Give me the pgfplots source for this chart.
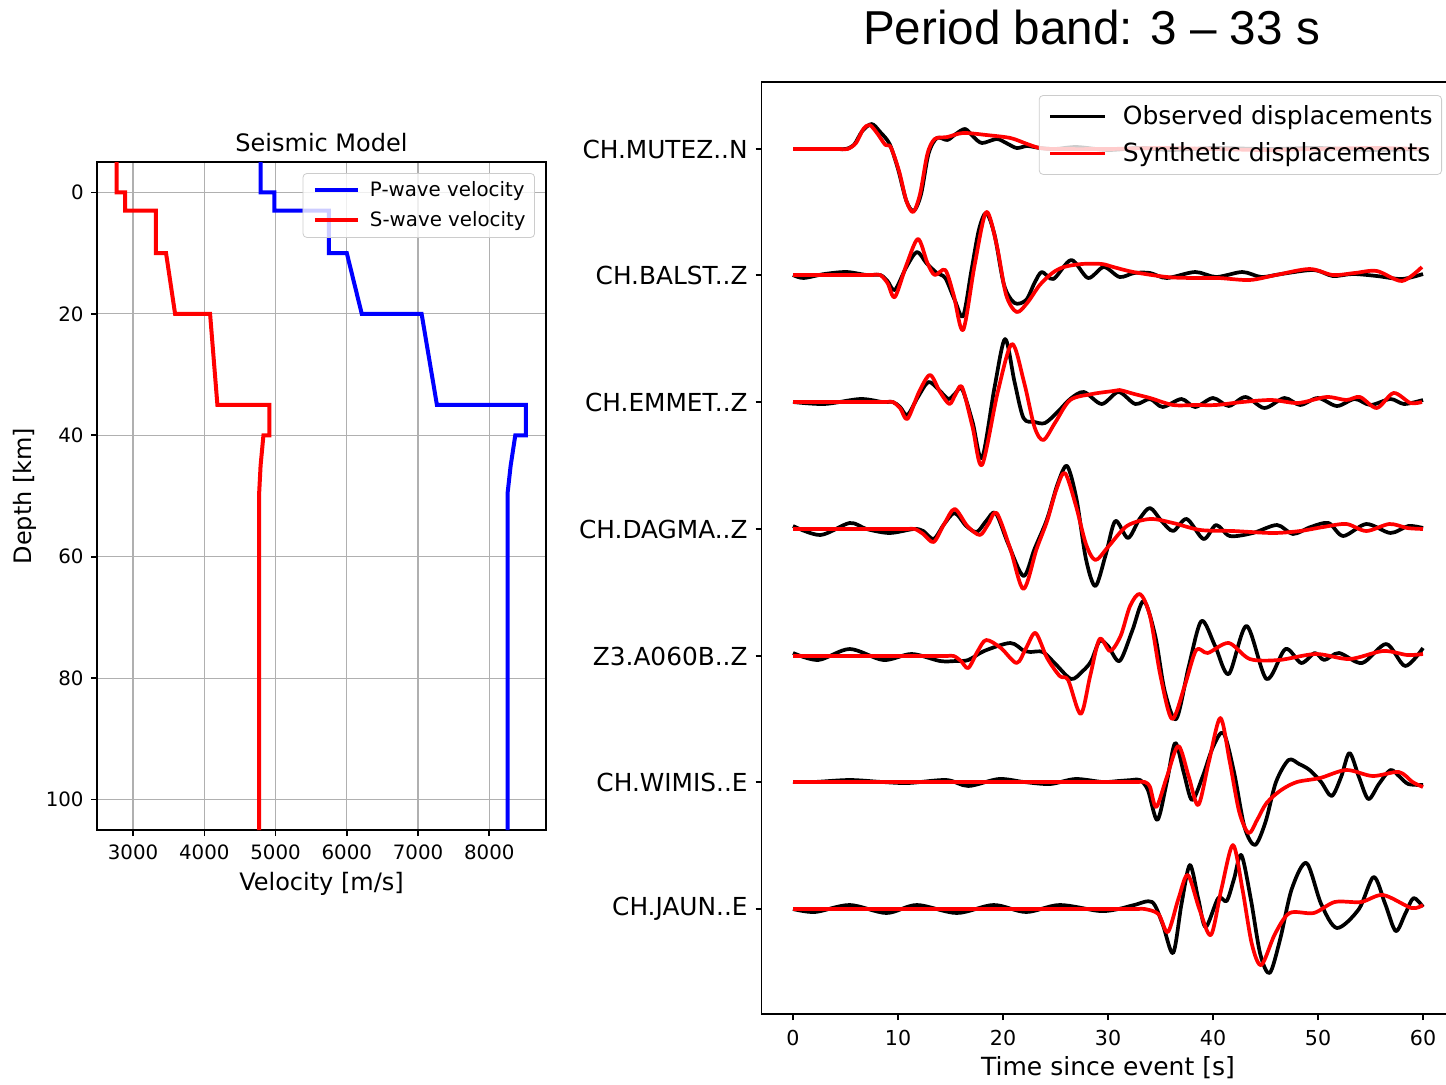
\documentclass[border=0pt]{standalone}
\usepackage{pgfplots}
\pgfplotsset{compat=1.18}
\usepackage{fontspec}
\setmainfont{DejaVu Sans}
\newfontfamily\arialfont{Liberation Sans}

\definecolor{gridgray}{RGB}{176,176,176}
\definecolor{legframe}{RGB}{204,204,204}

\pgfplotsset{
  mplaxis/.style={
    scale only axis,
    axis line style={line width=0.8pt},
    tick style={line width=0.8pt, black},
    major tick length=3pt,
    tick align=outside,
    xtick pos=bottom, ytick pos=left,
    /pgf/number format/assume math mode=true,
  },
  wave/.style={smooth, line width=1.85pt, line join=round},
}

\begin{document}
\begin{tikzpicture}
\useasboundingbox (0pt,0pt) rectangle (723pt,542pt);

% ---------- seismic model ----------
\begin{axis}[
  mplaxis,
  at={(48.5pt,127pt)}, anchor=south west,
  width=224.5pt, height=334pt,
  xmin=2494, xmax=8796,
  ymin=-5, ymax=105, y dir=reverse,
  xtick={3000,4000,5000,6000,7000,8000},
  xticklabels={3000,4000,5000,6000,7000,8000},
  ytick={0,20,40,60,80,100},
  yticklabels={0,20,40,60,80,100},
  xticklabel style={font=\fontsize{9.9}{12}\selectfont, anchor=base, inner sep=0pt, yshift=-11.5pt},
  yticklabel style={font=\fontsize{9.9}{12}\selectfont, anchor=east, inner sep=0pt, xshift=-3.5pt},
  grid=major,
  major grid style={gridgray, line width=0.6pt},
  legend style={at={(rel axis cs:0.9755,0.9835)}, anchor=north east,
    font=\fontsize{9.9}{12}\selectfont, draw=legframe, rounded corners=2pt,
    fill=white, fill opacity=0.8, text opacity=1, draw opacity=1,
    inner xsep=2pt, inner ysep=1.5pt, row sep=1pt,
    nodes={inner sep=2.5pt}},
  legend cell align=left,
  legend image code/.code={\path (-3pt,0pt) (24pt,0pt); \draw[#1] (0pt,0pt) -- (21.5pt,0pt);},
]
\addplot[blue, line width=2pt] coordinates {
  (4790,-5) (4790,0) (4985,0) (4985,3) (5750,3) (5750,10) (6000,10)
  (6210,20) (7050,20) (7265,35) (8515,35) (8515,40) (8365,40)
  (8300,45) (8257,49.5) (8257,105)
};
\addlegendentry{P-wave velocity}
\addplot[red, line width=2pt] coordinates {
  (2771,-5) (2771,0) (2888,0) (2888,3) (3319,3) (3319,10) (3463,10)
  (3590,20) (4081,20) (4184,35) (4914,35) (4914,40) (4830,40)
  (4790,45) (4770,49.5) (4770,105)
};
\addlegendentry{S-wave velocity}
\end{axis}

\node[font=\fontsize{12}{14}\selectfont, anchor=base] at (160.75pt,466pt) {Seismic Model};
\node[font=\fontsize{12}{14}\selectfont, anchor=base] at (160.75pt,97pt) {Velocity [m/s]};
\node[font=\fontsize{12}{14}\selectfont, anchor=base, rotate=90] at (16pt,294pt) {Depth [km]};

% ---------- waveforms ----------
\begin{axis}[
  mplaxis,
  at={(380.75pt,35pt)}, anchor=south west,
  width=346.5pt, height=466pt,
  xmin=-3, xmax=63,
  ymin=-1014, ymax=-82,
  xtick={0,10,20,30,40,50,60},
  xticklabels={0,10,20,30,40,50,60},
  ytick={-909,-782,-656,-529,-402,-275,-149},
  yticklabels={CH.JAUN..E,CH.WIMIS..E,Z3.A060B..Z,CH.DAGMA..Z,CH.EMMET..Z,CH.BALST..Z,CH.MUTEZ..N},
  xticklabel style={font=\fontsize{10.3}{12}\selectfont, anchor=base, inner sep=0pt, yshift=-12.5pt},
  yticklabel style={font=\fontsize{12.4}{14}\selectfont, anchor=east, inner sep=0pt, xshift=-3.75pt},
  legend style={at={(rel axis cs:0.982,0.986)}, anchor=north east,
    font=\fontsize{12.5}{15}\selectfont, draw=legframe, rounded corners=2pt,
    fill=white, fill opacity=0.8, text opacity=1, draw opacity=1,
    inner xsep=2pt, inner ysep=2.5pt, row sep=2.5pt,
    nodes={inner sep=2.5pt}},
  legend cell align=left,
  legend image code/.code={\path (-2.5pt,0pt) (33pt,0pt); \draw[#1] (0pt,0pt) -- (27.5pt,0pt);},
]
% CH.MUTEZ..N
\addplot[black, wave] table[header=false, row sep=\\, y expr=\thisrowno{1}-149] {
0 0\\ 2.5 0\\ 4.2 0\\ 5.0 0\\ 5.8 4\\ 6.6 18\\ 7.5 25\\ 8.3 17\\ 9.2 5\\ 10.0 -20\\ 10.8 -52\\
11.5 -62\\ 12.2 -45\\ 12.9 -5\\ 13.7 11\\ 14.7 9\\ 15.5 15\\ 16.4 20\\ 17.2 12\\
18.0 6\\ 19.4 10\\ 20.3 6\\ 21.3 1\\ 22.3 3\\ 23.5 1\\ 25 0\\ 27 2\\ 30 -1\\
33 1\\ 36 -1\\ 40 1\\ 45 0\\ 50 1\\ 55 -1\\ 60 0\\
};
\addlegendentry{Observed displacements}
\addplot[red, wave] table[header=false, row sep=\\, y expr=\thisrowno{1}-149] {
0 0\\ 2.5 0\\ 4.4 0\\ 5.2 0\\ 6.0 6\\ 6.7 20\\ 7.3 24\\ 8.0 16\\ 8.8 4\\ 9.3 2\\ 10.1 -22\\
10.8 -52\\ 11.45 -63\\ 12.1 -45\\ 12.8 -5\\ 13.5 10\\ 14.7 12\\ 16.2 16\\
18.4 14\\ 20.7 11\\ 22.3 5\\ 23.5 1\\ 25 0\\ 30 0\\ 35 1\\ 40 0\\ 45 -1\\
50 0\\ 55 1\\ 60 0\\
};
\addlegendentry{Synthetic displacements}
% CH.BALST..Z
\addplot[black, wave, forget plot] table[header=false, row sep=\\, y expr=\thisrowno{1}-275] {
0 0\\ 1.0 -3\\ 3 1\\ 5.1 3\\ 7 0\\ 8.3 0\\ 9.0 -6\\ 9.7 -15\\ 10.8 8\\ 11.8 23\\
12.7 12\\ 13.7 2\\ 14.5 -3\\ 15.4 -25\\ 16.2 -41\\ 17.0 5\\ 17.7 45\\ 18.4 62\\
19.2 40\\ 20.1 -10\\ 21.1 -28\\ 22.2 -25\\ 23.0 -8\\ 23.7 3\\ 24.8 -4\\
26.5 15\\ 28.1 -3\\ 29.6 8\\ 31.1 -2\\ 32.5 2\\ 34 2\\ 35.6 -3\\ 38.3 3\\
40.3 -2\\ 42.8 3\\ 44.6 -2\\ 46.5 1\\ 49.6 5\\ 51.4 -1\\ 53.3 1\\ 55.6 -1\\
58.0 -4\\ 60 1\\
};
\addplot[red, wave, forget plot] table[header=false, row sep=\\, y expr=\thisrowno{1}-275] {
0 0\\ 3 0\\ 6 0\\ 7.5 0\\ 8.3 0\\ 9.0 -8\\ 9.7 -22\\ 10.8 10\\ 11.9 36\\ 12.8 12\\ 13.5 0\\
14.5 5\\ 15.3 -20\\ 16.2 -55\\ 17.3 10\\ 18.4 63\\ 19.4 30\\ 20.3 -20\\
21.3 -37\\ 22.3 -28\\ 23.5 -10\\ 24.7 2\\ 25.8 8\\ 27.5 11\\ 29.4 11\\
30.5 8\\ 32.4 3\\ 35.6 -2\\ 38 -3\\ 40.5 -3\\ 43.5 -5\\ 46 0\\ 49.2 6\\ 51.4 0\\
53.5 2\\ 55.6 4\\ 58.0 -6\\ 59.9 8\\
};
% CH.EMMET..Z
\addplot[black, wave, forget plot] table[header=false, row sep=\\, y expr=\thisrowno{1}-402] {
0 0\\ 3 -2\\ 6.4 3\\ 8.5 0\\ 9.5 0\\ 10.2 -5\\ 10.9 -13\\ 11.9 5\\ 12.9 20\\ 13.9 12\\
14.8 3\\ 15.4 8\\ 16.1 13\\ 17.1 -20\\ 18.0 -56\\ 19.2 15\\ 20.2 63\\ 21.1 20\\
21.95 -16\\ 23.0 -20\\ 24.0 -21\\ 25.2 -10\\ 26.4 3\\ 27.7 10\\ 29.4 -2\\
31 10\\ 32.6 -2\\ 34 3\\ 35.2 -5\\ 37 3\\ 38.3 -5\\ 40 4\\ 41.5 -4\\ 43.1 5\\
44.9 -6\\ 46.8 4\\ 48.3 -3\\ 50 4\\ 51.8 -4\\ 53.5 3\\ 55 -3\\ 56.9 3\\
58.2 -2\\ 60 2\\
};
\addplot[red, wave, forget plot] table[header=false, row sep=\\, y expr=\thisrowno{1}-402] {
0 0\\ 3 0\\ 6 0\\ 8.7 0\\ 9.5 0\\ 10.2 -6\\ 10.9 -17\\ 12.0 10\\ 13.05 27\\ 14.0 10\\ 14.9 -2\\
15.5 8\\ 16.1 15\\ 17.1 -25\\ 18.0 -63\\ 19.5 10\\ 20.85 58\\ 22.0 20\\
23.0 -25\\ 23.85 -38\\ 25.0 -20\\ 26.4 2\\ 28.5 8\\ 30.5 11\\ 31.1 12\\
32.5 8\\ 34 4\\ 36.2 -3\\ 38.3 -3\\ 40.3 -3\\ 42.8 0\\ 45.6 2\\ 48.1 -1\\ 50.8 5\\
52.7 2\\ 54.0 5\\ 55.6 -6\\ 57.2 9\\ 58.8 -1\\ 59.9 0\\
};
% CH.DAGMA..Z
\addplot[black, wave, forget plot] table[header=false, row sep=\\, y expr=\thisrowno{1}-529] {
0 3\\ 2.6 -6\\ 5.4 6\\ 7 0\\ 9.2 -4\\ 11.5 0\\ 12.4 -2\\ 13.4 -10\\ 14.4 5\\
15.4 16\\ 16.5 3\\ 17.5 -3\\ 18.4 8\\ 19.3 16\\ 20.5 -15\\ 21.95 -47\\
23.0 -20\\ 24.2 10\\ 25.2 45\\ 26.1 63\\ 27.0 30\\ 27.9 -30\\ 28.8 -57\\
29.8 -25\\ 30.7 8\\ 31.9 -9\\ 33.0 10\\ 34 21\\ 35.1 8\\ 36.2 -2\\ 37.5 10\\
39.1 -10\\ 40.3 4\\ 41.6 -7\\ 43.8 -4\\ 46.1 4\\ 47.6 -5\\ 49.3 2\\ 51 6\\
52.4 -7\\ 54.6 5\\ 56.9 -4\\ 58.6 3\\ 60 1\\
};
\addplot[red, wave, forget plot] table[header=false, row sep=\\, y expr=\thisrowno{1}-529] {
0 0\\ 3 0\\ 6 0\\ 9 0\\ 10.8 0\\ 11.6 0\\ 12.4 -5\\ 13.4 -13\\ 14.4 5\\ 15.4 20\\ 16.6 3\\ 17.8 -6\\
18.6 5\\ 19.4 16\\ 20.7 -20\\ 21.95 -60\\ 23.2 -20\\ 24.2 8\\ 25.1 40\\
25.9 56\\ 26.9 25\\ 27.9 -15\\ 28.8 -31\\ 30.0 -18\\ 31.8 3\\ 34 10\\
36.2 6\\ 38.8 -1\\ 41.9 -2\\ 45.7 -4\\ 48.3 -2\\ 50.5 2\\ 52.7 5\\ 54.6 -2\\
56.8 5\\ 58.5 1\\ 60 0\\
};
% Z3.A060B..Z
\addplot[black, wave, forget plot] table[header=false, row sep=\\, y expr=\thisrowno{1}-656] {
0 3\\ 2.4 -4\\ 5.4 7\\ 8.6 -4\\ 11.3 2\\ 14.0 -5\\ 15.5 -5\\ 16.7 -4\\
18.2 5\\ 20.7 13\\ 22.0 5\\ 22.6 4\\ 23.8 4\\ 25.0 -8\\ 26.5 -23\\ 27.6 -15\\
28.4 -5\\ 29.2 15\\ 30.0 10\\ 31.1 -5\\ 32.3 25\\ 33.4 55\\ 34.5 20\\
35.4 -35\\ 36.5 -63\\ 37.7 -10\\ 38.9 35\\ 40.2 10\\ 41.5 -18\\ 43.2 30\\
45.1 -23\\ 46.9 7\\ 48.4 -7\\ 49.7 3\\ 50.6 -4\\ 52 3\\ 54.2 -7\\ 56.5 12\\
58.3 -10\\ 60 8\\
};
\addplot[red, wave, forget plot] table[header=false, row sep=\\, y expr=\thisrowno{1}-656] {
0 0\\ 3 0\\ 6 0\\ 9 0\\ 12 0\\ 14.5 0\\ 15.3 0\\ 16.0 -5\\ 16.7 -12\\ 17.6 5\\ 18.4 16\\ 19.8 8\\ 21.3 -7\\
22.2 8\\ 23.1 23\\ 24.2 -2\\ 25.4 -20\\ 26.2 -24\\ 27.4 -58\\ 28.3 -20\\
29.2 17\\ 30.2 5\\ 31.2 20\\ 32.1 50\\ 33.05 62\\ 34.0 40\\ 35.0 -20\\
36.1 -63\\ 37.3 -30\\ 38.4 6\\ 39.5 3\\ 41.5 13\\ 43.5 -3\\ 46.3 -4\\
49.8 2\\ 53 -3\\ 56.2 5\\ 58.5 1\\ 60 2\\
};
% CH.WIMIS..E
\addplot[black, wave, forget plot] table[header=false, row sep=\\, y expr=\thisrowno{1}-782] {
0 0\\ 2 0\\ 5.4 2\\ 8.5 0\\ 11 -1\\ 14.6 2\\ 16.7 -4\\ 19.6 3\\ 22 0\\
24.5 -2\\ 26.9 3\\ 29.5 0\\ 31 1\\ 32.3 2\\ 33.05 2\\ 33.8 -8\\ 34.7 -38\\ 35.6 0\\
36.4 39\\ 37.2 10\\ 38.0 -18\\ 39.0 5\\ 40.0 35\\ 41.0 49\\ 42.0 10\\
43.0 -45\\ 44.0 -63\\ 45.0 -40\\ 46.0 0\\ 47.2 22\\ 48.2 18\\ 49.2 12\\
50.3 0\\ 51.3 -14\\ 52.2 5\\ 53.0 29\\ 53.9 5\\ 54.8 -17\\ 55.8 -2\\
56.9 12\\ 57.8 5\\ 58.6 -2\\ 60 -3\\
};
\addplot[red, wave, forget plot] table[header=false, row sep=\\, y expr=\thisrowno{1}-782] {
0 0\\ 5 0\\ 10 0\\ 15 0\\ 20 0\\ 25 0\\ 30 0\\ 32.7 0\\ 33.5 0\\ 34.0 -5\\ 34.6 -25\\ 35.6 5\\ 36.7 36\\ 37.7 5\\ 38.6 -23\\
39.6 20\\ 40.7 64\\ 41.6 20\\ 42.5 -30\\ 43.4 -51\\ 44.2 -38\\ 45.1 -21\\
46.5 -8\\ 48 0\\ 50.2 4\\ 52.7 12\\ 55.2 6\\ 57.7 10\\ 59 0\\ 60 -5\\
};
% CH.JAUN..E
\addplot[black, wave, forget plot] table[header=false, row sep=\\, y expr=\thisrowno{1}-909] {
0 0\\ 2.1 -3\\ 5.4 4\\ 8.9 -4\\ 11.8 4\\ 15.6 -4\\ 19.1 4\\ 22.2 -3\\
25.4 4\\ 29.2 -2\\ 31 0\\ 32.5 4\\ 34.2 7\\ 35.2 -15\\ 36.2 -44\\ 37.0 5\\
37.8 44\\ 38.6 10\\ 39.3 -18\\ 40.5 11\\ 41.3 8\\ 42.0 30\\ 42.7 54\\
43.6 10\\ 44.5 -45\\ 45.4 -64\\ 46.4 -30\\ 47.5 20\\ 48.9 46\\ 50.3 5\\
51.8 -19\\ 53.9 0\\ 55.3 32\\ 56.4 5\\ 57.4 -22\\ 58.3 -5\\ 59.1 11\\ 60 2\\
};
\addplot[red, wave, forget plot] table[header=false, row sep=\\, y expr=\thisrowno{1}-909] {
0 0\\ 5 0\\ 10 0\\ 15 0\\ 20 0\\ 25 0\\ 30 0\\ 32.7 0\\ 33.5 0\\ 34.8 -5\\ 35.7 -23\\ 36.7 10\\ 37.6 34\\ 38.7 0\\ 39.8 -26\\
40.8 20\\ 41.9 64\\ 42.8 20\\ 43.7 -35\\ 44.6 -56\\ 45.9 -25\\ 47.3 -4\\
49.6 -4\\ 51.6 7\\ 54.1 7\\ 56.2 14\\ 58.9 1\\ 60 4\\
};
\end{axis}

\node[font=\fontsize{12.5}{15}\selectfont, anchor=base] at (554pt,4.5pt) {Time since event [s]};
\node[font=\arialfont\fontsize{23.8}{28}\selectfont, anchor=base] at (545.75pt,519.5pt) {Period band: 3 – 33 s};
\end{tikzpicture}
\end{document}
